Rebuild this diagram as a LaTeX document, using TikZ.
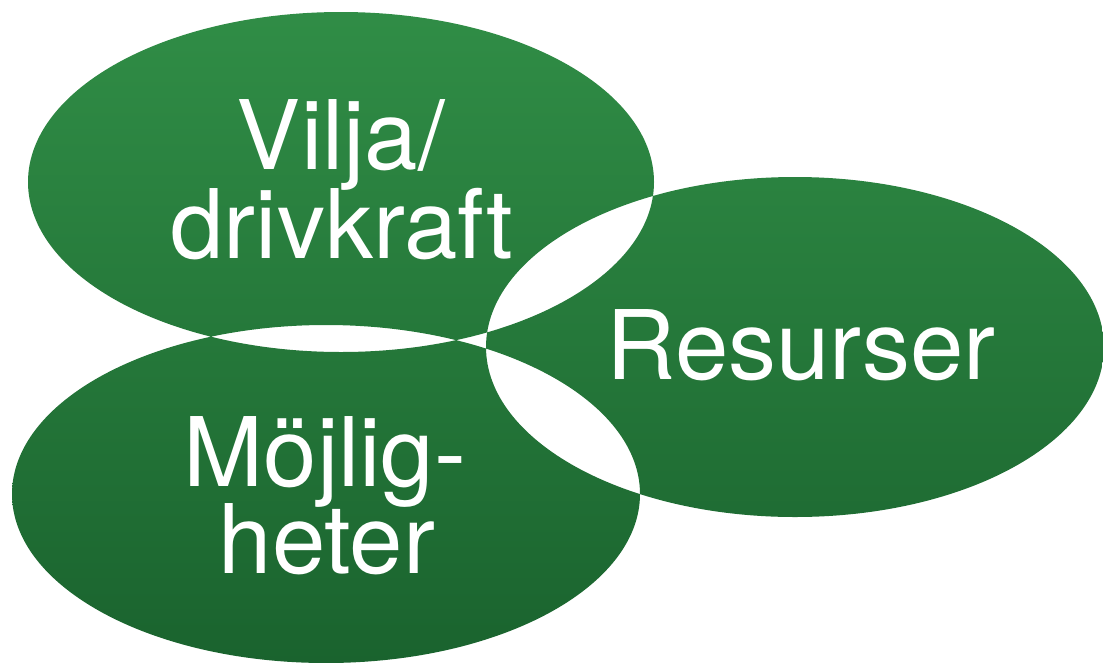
\documentclass[tikz,border=0pt]{standalone}
\usepackage{fontspec}
\setmainfont{TeX Gyre Heros}
\begin{document}
\begin{tikzpicture}[x=1pt,y=-1pt,
  lbl/.style={text=white,anchor=base,inner sep=0pt,font=\fontsize{96}{100}\selectfont}]
\useasboundingbox (0,0) rectangle (1103,662);
\shade[even odd rule,top color={rgb,255:red,48;green,141;blue,70},bottom color={rgb,255:red,26;green,99;blue,46},shading angle=0]
  (341,182) ellipse [x radius=313,y radius=170]
  (795,347) ellipse [x radius=309,y radius=170]
  (326,494) ellipse [x radius=314,y radius=169];
\node[lbl] (v1) at (341,169) {Vilja/};
\node[lbl] (v2) at (342,258) {drivkraft};
\node[lbl] (r) at (801,379) {Resurser};
\node[lbl] (m1) at (325,486) {Möjlig-};
\node[lbl] (m2) at (327,573) {heter};
\end{tikzpicture}
\end{document}
